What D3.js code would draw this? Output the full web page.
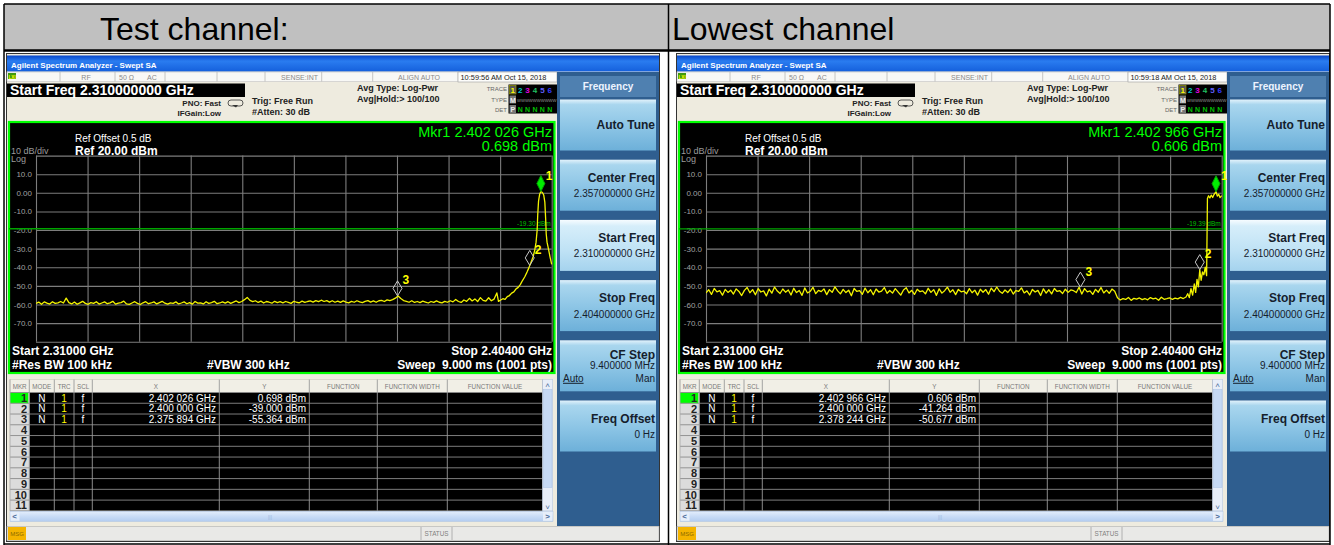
<!DOCTYPE html>
<html>
<head>
<meta charset="utf-8">
<title>Spectrum analyzer screens</title>
<script src="https://cdn.jsdelivr.net/npm/d3@7/dist/d3.min.js"></script>
<style>
  html, body { margin: 0; padding: 0; background: #ffffff; }
  #chart { display: block; font-family: "Liberation Sans", Arial, sans-serif; }
</style>
</head>
<body>
<svg id="chart" width="1334" height="545"></svg>
<script>
var panelTitles = ['Test channel:', 'Lowest channel'];
var sweepClocks = ['10:59:56 AM Oct 15, 2018', '10:59:18 AM Oct 15, 2018'];
var thresholdDbm = [-19.30, -19.39];
var freqSpanMhz = [2310, 2404];
var levelSpanDbm = [-80, 20];
var yTickDbm = [10, 0, -10, -20, -30, -40, -50, -60, -70];
var floorStepMhz = 0.5;

// test channel: floor every 0.5 MHz from 2310 MHz
var testFloorDbm = [
  -59.5, -58.7, -59.9, -58.6, -59.3, -59.8, -58.5, -59.4, -59.1, -58.4,
  -59.2, -56.6, -59.0, -59.7, -58.7, -59.9, -59.1, -58.3, -59.4, -59.9,
  -59.0, -59.4, -58.5, -59.8, -59.2, -58.6, -59.6, -59.1, -58.3, -59.8,
  -59.3, -59.0, -58.2, -59.7, -59.9, -59.2, -58.5, -59.4, -60.0, -59.1,
  -58.5, -59.6, -59.2, -58.6, -59.7, -59.0, -58.3, -59.3, -59.8, -59.1,
  -59.4, -58.6, -59.7, -59.2, -58.6, -59.6, -59.0, -59.8, -58.4, -59.3,
  -59.1, -59.7, -58.5, -59.4, -59.0, -58.3, -59.6, -59.2, -58.6, -59.3,
  -58.5, -59.4, -58.7, -58.1, -59.0, -58.4, -57.4, -56.2, -57.8, -58.5,
  -58.0, -58.9, -58.2, -59.2, -58.4, -58.8, -59.3, -58.3, -59.0, -58.5,
  -59.1, -58.4, -58.9, -59.4, -58.3, -58.8, -59.1, -58.2, -58.9, -58.4,
  -58.1, -58.7, -57.9, -58.5, -57.7, -58.4, -57.9, -58.7, -58.0, -58.8,
  -58.2, -58.9, -58.1, -58.7, -59.1, -58.3, -58.8, -58.0, -58.6, -59.0,
  -58.3, -57.9, -58.7, -58.1, -58.8, -58.0, -57.8, -58.4, -57.5, -57.9,
  -57.4, -56.6, -55.4, -56.8, -57.9, -58.3, -58.8, -58.0, -58.9, -58.4,
  -59.0, -58.2, -58.7, -59.2, -58.4, -58.9, -58.1, -58.8, -59.1, -58.3,
  -58.8, -58.0, -58.6, -57.3, -58.4, -58.9, -57.6, -58.3, -56.7, -58.1,
  -57.0, -58.4, -56.3, -57.8
];
// test channel: skirt and carrier as [MHz, dBm]
var testEdge = [
  [2392.0, -58.2], [2392.5, -56.4], [2393.0, -58.0], [2393.5, -57.1], [2394.0, -53.8],
  [2394.3, -58.3], [2394.7, -57.6], [2395.1, -56.9], [2395.5, -57.3], [2395.9, -55.8],
  [2396.3, -55.2], [2396.7, -53.9], [2397.1, -53.2], [2397.5, -51.6], [2397.9, -50.8],
  [2398.3, -49.2], [2398.7, -47.0], [2399.1, -45.1], [2399.5, -42.6], [2399.8, -40.6],
  [2400.0, -39.0], [2400.3, -36.8], [2400.6, -34.5], [2400.9, -31.0], [2401.15, -26.5],
  [2401.35, -20.0], [2401.45, -12.0], [2401.6, -4.5], [2401.8, -0.8], [2402.03, 0.7],
  [2402.3, 0.2], [2402.55, -1.2], [2402.75, -5.0], [2402.9, -14.0], [2403.0, -22.0],
  [2403.15, -26.5], [2403.4, -30.0], [2403.7, -34.5], [2404.0, -38.5]
];

// lowest channel: floor every 0.5 MHz from 2310 MHz
var lowFloorDbm = [
  -53.8, -52.1, -54.6, -51.4, -53.2, -52.6, -55.0, -51.9, -53.5, -52.3,
  -54.4, -51.6, -53.0, -55.2, -52.4, -50.9, -53.7, -52.0, -54.8, -51.5,
  -53.3, -52.7, -55.4, -51.8, -53.9, -50.6, -52.8, -54.1, -51.7, -53.4,
  -52.2, -54.9, -51.3, -53.6, -52.5, -55.1, -51.1, -53.8, -52.9, -50.8,
  -54.2, -52.4, -53.1, -51.6, -54.7, -52.0, -53.5, -50.5, -52.7, -54.3,
  -51.9, -53.6, -52.3, -55.3, -51.4, -53.0, -52.6, -54.5, -51.2, -53.7,
  -52.1, -54.8, -51.7, -53.3, -52.8, -50.9, -54.0, -52.5, -53.9, -51.5,
  -53.2, -55.0, -52.2, -51.0, -53.8, -52.4, -54.6, -51.8, -53.1, -52.7,
  -54.3, -51.3, -53.5, -52.0, -55.1, -51.6, -53.9, -52.6, -50.7, -53.4,
  -52.1, -54.7, -51.9, -53.2, -52.8, -54.2, -51.5, -53.7, -52.3, -55.0,
  -51.8, -53.4, -52.0, -54.5, -51.2, -53.1, -50.6, -52.9, -54.0, -52.2,
  -53.6, -51.7, -54.4, -52.5, -53.0, -51.1, -53.8, -52.7, -54.9, -51.9,
  -53.3, -52.4, -55.2, -51.6, -53.9, -52.1, -54.3, -51.4, -53.0, -52.6,
  -54.1, -51.8, -53.5, -52.2, -52.6, -53.6, -50.7, -54.4, -51.5, -53.2,
  -52.7, -54.6, -51.9, -53.4, -50.9, -53.8, -52.3, -54.0, -51.7, -52.9,
  -56.4, -57.6, -56.9, -57.3, -56.2, -57.8, -56.7, -57.1, -56.5, -57.4,
  -56.8, -57.5, -56.3, -57.0, -56.6, -57.7, -56.1, -57.2, -56.9, -56.4,
  -57.3, -56.6, -57.0, -56.2, -56.8
];
// lowest channel: skirt and carrier as [MHz, dBm]
var lowEdge = [
  [2397.5, -56.0], [2397.8, -54.2], [2398.1, -56.3], [2398.4, -51.5], [2398.7, -55.0],
  [2399.0, -49.0], [2399.25, -53.5], [2399.5, -46.5], [2399.75, -50.5], [2400.0, -41.3],
  [2400.25, -47.0], [2400.5, -42.5], [2400.75, -44.0], [2401.0, -40.0], [2401.25, -44.5],
  [2401.4, -3.0], [2401.6, -1.6], [2401.85, -2.8], [2402.1, -1.2], [2402.35, -2.5],
  [2402.6, -0.9], [2402.97, 0.6], [2403.2, -1.8], [2403.45, -0.8], [2403.7, -2.6],
  [2404.0, -1.5]
];

// markers as [MHz, dBm]
var testMarkers = [[2402.026, 0.698], [2400.000, -39.000], [2375.894, -55.364]];
var lowMarkers = [[2402.966, 0.606], [2400.000, -41.264], [2378.244, -50.677]];

var softkeyTitles = ['Auto Tune', 'Center Freq', 'Start Freq', 'Stop Freq', 'CF Step', 'Freq Offset'];
var softkeyValues = ['', '2.357000000 GHz', '2.310000000 GHz', '2.404000000 GHz', '9.400000 MHz', '0 Hz'];
var tableColumns = ['MKR', 'MODE', 'TRC', 'SCL', 'X', 'Y', 'FUNCTION', 'FUNCTION WIDTH', 'FUNCTION VALUE'];

(function() {
  var svg = d3.select('#chart');
  var defs = svg.append('defs');

  function gradient(id, stops) {
    var grad = defs.append('linearGradient').attr('id', id)
      .attr('x1', 0).attr('y1', 0).attr('x2', 0).attr('y2', 1);
    stops.forEach(function(s) {
      grad.append('stop').attr('offset', s[0]).attr('stop-color', s[1]);
    });
  }
  gradient('titleGrad', [[0, '#0846c8'], [0.35, '#2a7cf0'], [1, '#1560dc']]);
  gradient('keyGrad', [[0, '#e2f2fb'], [0.1, '#a9d6ee'], [0.55, '#8bc4e5'], [1, '#6db0d9']]);
  gradient('keySelGrad', [[0, '#f7fcff'], [0.12, '#d6eefa'], [0.6, '#bfe2f5'], [1, '#a5d3ee']]);
  gradient('scrollGrad', [[0, '#e4eefc'], [0.5, '#c9dcf6'], [1, '#b4cdf0']]);

  function fmtGhz(mhz) {
    var s = (mhz / 1000).toFixed(6);
    return s.slice(0, 5) + ' ' + s.slice(5) + ' GHz';
  }
  function fmtDbm(v) {
    return v.toFixed(3) + ' dBm';
  }
  function txt(g, x, y, str, size, fill, weight, anchor) {
    return g.append('text')
      .attr('x', x).attr('y', y)
      .attr('font-size', size)
      .attr('fill', fill)
      .attr('font-weight', weight || 'normal')
      .attr('text-anchor', anchor || 'start')
      .text(str);
  }

  // header row of the page table
  svg.append('rect').attr('x', 4).attr('y', 4).attr('width', 1326).attr('height', 46).attr('fill', '#c0c0c0');
  txt(svg, 100, 40, panelTitles[0], 32, '#000');
  txt(svg, 672, 40, panelTitles[1], 32, '#000');

  var panels = [
    { clock: sweepClocks[0], threshold: thresholdDbm[0], floor: testFloorDbm, edge: testEdge, markers: testMarkers },
    { clock: sweepClocks[1], threshold: thresholdDbm[1], floor: lowFloorDbm, edge: lowEdge, markers: lowMarkers }
  ];

  panels.forEach(function(cfg, idx) {
    drawPanel(svg.append('g').attr('transform', 'translate(' + (idx * 670) + ',0)'), cfg, idx);
  });

  // page table borders
  var borders = svg.append('g').attr('stroke', '#000').attr('stroke-width', 1.5);
  borders.append('line').attr('x1', 4).attr('y1', 4).attr('x2', 1330).attr('y2', 4);
  borders.append('line').attr('x1', 4).attr('y1', 50.5).attr('x2', 1330).attr('y2', 50.5).attr('stroke-width', 2.5);
  borders.append('line').attr('x1', 4).attr('y1', 544).attr('x2', 1330).attr('y2', 544);
  [4, 668.5, 1330].forEach(function(xv) {
    borders.append('line').attr('x1', xv).attr('y1', 4).attr('x2', xv).attr('y2', 545);
  });

  function drawPanel(g, cfg, idx) {
    var x = d3.scaleLinear().domain(freqSpanMhz).range([36, 551.7]);
    var y = d3.scaleLinear().domain(levelSpanDbm).range([341.7, 155.6]);

    // window body and title bar
    g.append('rect').attr('x', 6.5).attr('y', 53.5).attr('width', 653).attr('height', 488)
      .attr('fill', '#eeebdf').attr('stroke', '#333');
    g.append('rect').attr('x', 7).attr('y', 55.5).attr('width', 652).attr('height', 16).attr('fill', 'url(#titleGrad)');
    txt(g, 11, 67.5, 'Agilent Spectrum Analyzer - Swept SA', 8, '#fff', 'bold');

    // status strip
    g.append('rect').attr('x', 7).attr('y', 72).attr('width', 451).attr('height', 9.5)
      .attr('fill', '#f8f8f6').attr('stroke', '#c4c4c4').attr('stroke-width', 0.6);
    g.append('rect').attr('x', 8).attr('y', 73).attr('width', 8).attr('height', 6).attr('fill', '#3f9a10');
    txt(g, 8.5, 78.5, 'LXI', 4.5, '#ff0', 'bold');
    [60, 115, 165, 217, 265, 321.7, 372.7].forEach(function(xv) {
      g.append('line').attr('x1', xv).attr('y1', 72).attr('x2', xv).attr('y2', 81.5)
        .attr('stroke', '#b8b8b8').attr('stroke-width', 0.8);
    });
    txt(g, 86, 79.5, 'RF', 7, '#8a8a8a', 'normal', 'middle');
    txt(g, 119, 79.5, '50 \u03a9', 7, '#8a8a8a');
    txt(g, 147, 79.5, 'AC', 7, '#8a8a8a');
    txt(g, 318, 79.5, 'SENSE:INT', 7, '#8a8a8a', 'normal', 'end');
    txt(g, 440, 79.5, 'ALIGN AUTO', 7, '#8a8a8a', 'normal', 'end');
    g.append('rect').attr('x', 458).attr('y', 72).attr('width', 99).attr('height', 10)
      .attr('fill', '#fdfdfb').attr('stroke', '#a8a8a8').attr('stroke-width', 0.7);
    txt(g, 460.5, 79.8, cfg.clock, 7.4, '#222');

    // settings readout
    g.append('rect').attr('x', 7).attr('y', 83.5).attr('width', 238).attr('height', 13.5).attr('fill', '#000');
    txt(g, 10, 95, 'Start Freq 2.310000000 GHz', 14, '#fff', 'bold');
    txt(g, 221, 105.5, 'PNO: Fast', 8, '#222', 'bold', 'end');
    txt(g, 221, 115.5, 'IFGain:Low', 8, '#222', 'bold', 'end');
    g.append('rect').attr('x', 228).attr('y', 100).attr('width', 15).attr('height', 6).attr('rx', 3)
      .attr('fill', 'none').attr('stroke', '#333').attr('stroke-width', 0.8);
    g.append('path').attr('d', 'M232,105 L238,105 L236,107.5 Z').attr('fill', '#333');
    txt(g, 252, 104, 'Trig: Free Run', 9, '#222', 'bold');
    txt(g, 252, 114.5, '#Atten: 30 dB', 9, '#222', 'bold');
    txt(g, 357, 91, 'Avg Type: Log-Pwr', 9, '#222', 'bold');
    txt(g, 357, 102, 'Avg|Hold:> 100/100', 9, '#222', 'bold');

    // trace status box
    txt(g, 507, 91, 'TRACE', 6, '#666', 'normal', 'end');
    txt(g, 507, 101.5, 'TYPE', 6, '#666', 'normal', 'end');
    txt(g, 507, 111.5, 'DET', 6, '#666', 'normal', 'end');
    g.append('rect').attr('x', 508.5).attr('y', 84.5).attr('width', 48.5).attr('height', 29).attr('fill', '#000');
    var traceColors = ['#ffff00', '#00c8c8', '#e000e0', '#20c060', '#6060ff', '#3a3aff'];
    g.append('rect').attr('x', 509.5).attr('y', 85.5).attr('width', 6.5).attr('height', 8.5)
      .attr('fill', '#555').attr('stroke', '#aa0').attr('stroke-width', 0.6);
    traceColors.forEach(function(c, i) {
      txt(g, 512.8 + i * 7.4, 92.5, String(i + 1), 8, c, 'bold', 'middle');
    });
    g.append('rect').attr('x', 509.5).attr('y', 95.5).attr('width', 6.5).attr('height', 8).attr('fill', '#777');
    txt(g, 512.8, 102.5, 'M', 7, '#eee', 'bold', 'middle');
    txt(g, 517, 102, 'WWWWWWWWWW', 4.2, '#9a9a9a');
    g.append('rect').attr('x', 509.5).attr('y', 105).attr('width', 6.5).attr('height', 8).attr('fill', '#777');
    txt(g, 512.8, 112, 'P', 7, '#eee', 'bold', 'middle');
    for (var k = 1; k < 6; k++) {
      txt(g, 512.8 + k * 7.4, 112, 'N', 7, '#00c000', 'bold', 'middle');
    }

    // graph area
    g.append('rect').attr('x', 9).attr('y', 122).attr('width', 545.5).attr('height', 251)
      .attr('fill', '#000').attr('stroke', '#00ff00').attr('stroke-width', 2.2);
    txt(g, 75, 142, 'Ref Offset 0.5 dB', 10, '#fff');
    txt(g, 75, 154.5, 'Ref 20.00 dBm', 12, '#fff', 'bold');
    txt(g, 11, 154, '10 dB/div', 9, '#9a9a9a');
    txt(g, 11, 162, 'Log', 9, '#9a9a9a');
    txt(g, 552, 136.5, 'Mkr1 ' + fmtGhz(cfg.markers[0][0]), 14.5, '#00ff00', 'normal', 'end');
    txt(g, 552, 150.5, fmtDbm(cfg.markers[0][1]), 14.5, '#00ff00', 'normal', 'end');

    // grid from the axes
    var plotW = x.range()[1] - x.range()[0];
    var plotH = y.range()[0] - y.range()[1];
    var divisions = d3.range(11).map(function(i) {
      return freqSpanMhz[0] + i * (freqSpanMhz[1] - freqSpanMhz[0]) / 10;
    });
    var gridX = g.append('g')
      .attr('transform', 'translate(0,' + y.range()[0] + ')')
      .call(d3.axisBottom(x).tickValues(divisions).tickSize(-plotH).tickFormat(''));
    var gridY = g.append('g')
      .attr('transform', 'translate(' + x.range()[0] + ',0)')
      .call(d3.axisLeft(y).tickValues(d3.range(-80, 21, 10)).tickSize(-plotW).tickFormat(''));
    [gridX, gridY].forEach(function(ax) {
      ax.select('.domain').remove();
      ax.selectAll('line').attr('stroke', '#7d7d7d').attr('stroke-width', 1.1);
    });
    var labelsY = g.append('g')
      .attr('transform', 'translate(' + x.range()[0] + ',0)')
      .call(d3.axisLeft(y).tickValues(yTickDbm).tickSize(0).tickPadding(4)
        .tickFormat(function(v) { return v === 0 ? '0.00' : v.toFixed(1); }));
    labelsY.select('.domain').remove();
    labelsY.selectAll('text')
      .attr('font-size', 8).attr('fill', '#a0a0a0')
      .attr('font-family', '"Liberation Sans", Arial, sans-serif');

    // threshold display line
    g.append('line')
      .attr('x1', x.range()[0] - 27).attr('x2', x.range()[1])
      .attr('y1', y(cfg.threshold)).attr('y2', y(cfg.threshold))
      .attr('stroke', '#00a400').attr('stroke-width', 1.3);
    txt(g, x.range()[1] - 1, y(cfg.threshold) - 2.5, cfg.threshold.toFixed(2) + ' dBm', 6.5, '#00c000', 'normal', 'end');

    // trace
    var clipId = 'plotClip' + idx;
    defs.append('clipPath').attr('id', clipId).append('rect')
      .attr('x', x.range()[0]).attr('y', y.range()[1]).attr('width', plotW + 1).attr('height', plotH);
    var points = cfg.floor.map(function(v, i) {
      return [freqSpanMhz[0] + i * floorStepMhz, v];
    }).concat(cfg.edge);
    var line = d3.line()
      .x(function(d) { return x(d[0]); })
      .y(function(d) { return y(d[1]); });
    g.append('path')
      .attr('clip-path', 'url(#' + clipId + ')')
      .attr('d', line(points))
      .attr('fill', 'none')
      .attr('stroke', '#f4f400')
      .attr('stroke-width', 1.3)
      .attr('stroke-linejoin', 'round');

    // markers
    cfg.markers.forEach(function(m, i) {
      var px = x(m[0]);
      var py = y(m[1]);
      var hw = i === 0 ? 4 : 4.5;
      var h = i === 0 ? 16 : 15;
      g.append('path')
        .attr('d', 'M' + px + ',' + py + ' L' + (px + hw) + ',' + (py - h / 2) + ' L' + px + ',' + (py - h) +
          ' L' + (px - hw) + ',' + (py - h / 2) + ' Z')
        .attr('fill', i === 0 ? '#00ee00' : 'none')
        .attr('stroke', i === 0 ? '#00a000' : '#c8c8c8')
        .attr('stroke-width', 1);
      txt(g, px + 5, py - 11.5, String(i + 1), 12, '#ffff00', 'bold');
    });

    // bottom annotations
    txt(g, 12, 355, 'Start 2.31000 GHz', 12, '#fff', 'bold');
    txt(g, 12, 368.5, '#Res BW 100 kHz', 12, '#fff', 'bold');
    txt(g, 207, 368.5, '#VBW 300 kHz', 12, '#fff', 'bold');
    txt(g, 552, 355, 'Stop 2.40400 GHz', 12, '#fff', 'bold', 'end');
    txt(g, 552, 368.5, 'Sweep  9.000 ms (1001 pts)', 12, '#fff', 'bold', 'end')
      .attr('xml:space', 'preserve');

    // marker table
    var colEdges = [10, 29.3, 54.3, 74, 92.3, 219.3, 309.3, 377.3, 447.3, 542.7];
    var headTop = 379.5;
    var rowTop = 392.5;
    var rowH = 10.76;
    var nRows = 11;
    var tableBottom = rowTop + nRows * rowH;
    g.append('rect').attr('x', colEdges[0]).attr('y', headTop).attr('width', colEdges[9] - colEdges[0]).attr('height', rowTop - headTop)
      .attr('fill', '#f1efe6').attr('stroke', '#c8c6bc').attr('stroke-width', 0.6);
    tableColumns.forEach(function(c, i) {
      txt(g, (colEdges[i] + colEdges[i + 1]) / 2, headTop + 9, c, 6.3, '#7a7a7a', 'normal', 'middle');
    });
    g.append('rect').attr('x', colEdges[1]).attr('y', rowTop).attr('width', colEdges[9] - colEdges[1]).attr('height', tableBottom - rowTop)
      .attr('fill', '#000');
    g.append('rect').attr('x', colEdges[0]).attr('y', rowTop).attr('width', colEdges[1] - colEdges[0]).attr('height', tableBottom - rowTop)
      .attr('fill', '#dcdcdc');
    g.append('rect').attr('x', colEdges[0]).attr('y', rowTop).attr('width', colEdges[1] - colEdges[0] - 1).attr('height', rowH)
      .attr('fill', '#00ff00');
    for (var r = 0; r <= nRows; r++) {
      g.append('line').attr('x1', colEdges[0]).attr('x2', colEdges[9])
        .attr('y1', rowTop + r * rowH).attr('y2', rowTop + r * rowH)
        .attr('stroke', '#8a8a8a').attr('stroke-width', 0.9);
    }
    colEdges.forEach(function(xv, i) {
      g.append('line').attr('x1', xv).attr('x2', xv)
        .attr('y1', headTop).attr('y2', tableBottom)
        .attr('stroke', i === 0 ? '#aaa' : '#9a9a9a').attr('stroke-width', 0.9);
    });
    for (var rr = 0; rr < nRows; rr++) {
      txt(g, 27, rowTop + rr * rowH + 9.3, String(rr + 1), 11, '#222', 'bold', 'end');
    }
    cfg.markers.forEach(function(m, i) {
      var base = rowTop + i * rowH + 9;
      txt(g, 41.8, base, 'N', 10, '#fff', 'normal', 'middle');
      txt(g, 64, base, '1', 10, '#ffff00', 'normal', 'middle');
      txt(g, 83, base, 'f', 10, '#fff', 'normal', 'middle');
      txt(g, 216, base, fmtGhz(m[0]), 10, '#fff', 'normal', 'end');
      txt(g, 306, base, fmtDbm(m[1]), 10, '#fff', 'normal', 'end');
    });

    // scrollbars
    g.append('rect').attr('x', 542.7).attr('y', headTop).attr('width', 10).attr('height', tableBottom - headTop)
      .attr('fill', '#e8eef8').attr('stroke', '#b8c8e0').attr('stroke-width', 0.6);
    g.append('rect').attr('x', 543.5).attr('y', headTop + 10).attr('width', 8.5).attr('height', 98)
      .attr('fill', '#c6d9f4').attr('stroke', '#a8c0e4').attr('stroke-width', 0.5);
    txt(g, 547.7, headTop + 8, '\u02c4', 8, '#4a6a9a', 'normal', 'middle');
    txt(g, 547.7, tableBottom - 1, '\u02c5', 8, '#4a6a9a', 'normal', 'middle');
    g.append('rect').attr('x', colEdges[0]).attr('y', tableBottom + 0.5).attr('width', 543).attr('height', 10)
      .attr('fill', 'url(#scrollGrad)').attr('stroke', '#a8c0e4').attr('stroke-width', 0.5);
    g.append('rect').attr('x', colEdges[0] + 0.5).attr('y', tableBottom + 1).attr('width', 9).attr('height', 9)
      .attr('fill', '#e6eefa');
    g.append('rect').attr('x', 543).attr('y', tableBottom + 1).attr('width', 9.5).attr('height', 9)
      .attr('fill', '#e6eefa');
    txt(g, 14.5, tableBottom + 8.5, '<', 8, '#4a6a9a', 'bold', 'middle');
    txt(g, 547.5, tableBottom + 8.5, '>', 8, '#4a6a9a', 'bold', 'middle');
    txt(g, 270, tableBottom + 8, '|||', 5, '#9ab4dc', 'normal', 'middle');

    // status bar
    g.append('rect').attr('x', 7).attr('y', 526.5).attr('width', 652).attr('height', 14)
      .attr('fill', '#e9e9e7').attr('stroke', '#b0b0b0').attr('stroke-width', 0.6);
    g.append('rect').attr('x', 8).attr('y', 527).attr('width', 18).attr('height', 13).attr('fill', '#f4b400');
    txt(g, 17, 536, 'MSG', 6, '#8a6a00', 'normal', 'middle');
    g.append('line').attr('x1', 421).attr('x2', 421).attr('y1', 527).attr('y2', 540).attr('stroke', '#b0b0b0');
    g.append('line').attr('x1', 452).attr('x2', 452).attr('y1', 527).attr('y2', 540).attr('stroke', '#b0b0b0');
    txt(g, 436.5, 536, 'STATUS', 6.3, '#808080', 'normal', 'middle');

    // softkey panel
    g.append('rect').attr('x', 557).attr('y', 72).attr('width', 102).attr('height', 454).attr('fill', '#2f5e8f');
    g.append('rect').attr('x', 560).attr('y', 76).attr('width', 96).attr('height', 21).attr('fill', '#4f80b0');
    txt(g, 608, 89.5, 'Frequency', 10, '#eef4ff', 'bold', 'middle');
    softkeyTitles.forEach(function(title, i) {
      var top = 99.5 + i * 60.2;
      g.append('rect').attr('x', 560).attr('y', top).attr('width', 96).attr('height', 51)
        .attr('fill', i === 2 ? 'url(#keySelGrad)' : 'url(#keyGrad)');
      if (i === 0) {
        txt(g, 655, top + 29.5, title, 12, '#15202c', 'bold', 'end');
      } else if (i === 4) {
        txt(g, 655, top + 18.5, title, 12, '#15202c', 'bold', 'end');
        txt(g, 655, top + 28.5, softkeyValues[i], 10, '#15202c', 'normal', 'end');
        txt(g, 563, top + 41.5, 'Auto', 10, '#15202c', 'normal', 'start').attr('text-decoration', 'underline');
        txt(g, 655, top + 41.5, 'Man', 10, '#15202c', 'normal', 'end');
      } else {
        txt(g, 655, top + 22, title, 12, '#15202c', 'bold', 'end');
        txt(g, 655, top + 37.5, softkeyValues[i], 10, '#15202c', 'normal', 'end');
      }
    });
  }
})();
</script>
</body>
</html>
